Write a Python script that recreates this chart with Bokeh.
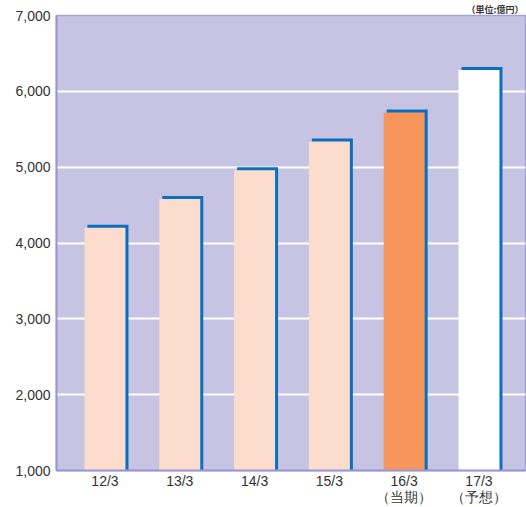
from bokeh.plotting import figure
from bokeh.models import FixedTicker, NumeralTickFormatter, Range1d
from bokeh.embed import file_html
from bokeh.resources import INLINE

# Fiscal periods and revenue (100 million yen)
periods = ["12/3", "13/3", "14/3", "15/3", "16/3", "17/3"]
notes = ["", "", "", "", "（当期）", "（予想）"]
values = [4200, 4580, 4960, 5340, 5720, 6280]
face_colors = ["#fcdccd", "#fcdccd", "#fcdccd", "#fcdccd", "#f7965a", "#ffffff"]
y_ticks = [1000, 2000, 3000, 4000, 5000, 6000, 7000]

W, H = 526, 507
ML, MR, MT, MB = 56, 1, 0, 20
frame_w = W - ML - MR
frame_h = 457

x0, x1 = -0.648, 5.622
y0, y1 = 1000, 7000
px_x = frame_w / (x1 - x0)
px_y = frame_h / (y1 - y0)

p = figure(width=W, height=H, output_backend="svg", toolbar_location=None,
           x_range=Range1d(x0, x1), y_range=Range1d(y0, y1),
           min_border_left=ML, min_border_right=MR, min_border_top=MT,
           min_border_bottom=MB, title="（単位:億円）")
p.title.align = "right"
p.title.text_font = "Noto Sans CJK JP"
p.title.text_font_size = "9px"
p.title.text_font_style = "bold"
p.title.text_color = "#333333"
p.title.standoff = 0
p.title.offset = 2

p.background_fill_color = "#c6c4e2"
p.border_fill_color = "#ffffff"
p.outline_line_color = "#a7a1d8"
p.outline_line_width = 1.5

xs = list(range(len(periods)))
bar_w = 41 / px_x
dx = 3 / px_x
dy = 3 / px_y

# blue drop shadow, offset up and to the right
p.vbar(x=[x + dx for x in xs], top=[v + dy for v in values], bottom=y0,
       width=bar_w, fill_color="#0b6fbd", line_color=None)
# bar faces
p.vbar(x=xs, top=values, bottom=y0, width=bar_w,
       fill_color=face_colors, line_color=None)

p.xgrid.grid_line_color = None
p.ygrid.ticker = FixedTicker(ticks=y_ticks)
p.ygrid.grid_line_color = "#ffffff"
p.ygrid.grid_line_width = 2
p.ygrid.level = "underlay"

p.yaxis.ticker = FixedTicker(ticks=y_ticks)
p.yaxis.formatter = NumeralTickFormatter(format="0,0")
p.yaxis.axis_line_color = "#9b95d3"
p.yaxis.axis_line_width = 2
p.yaxis.major_tick_line_color = None
p.yaxis.minor_tick_line_color = None
p.yaxis.major_tick_out = 0
p.yaxis.minor_tick_out = 0
p.yaxis.major_label_text_font = "Liberation Sans"
p.yaxis.major_label_text_font_size = "14px"
p.yaxis.major_label_text_color = "#333333"
p.yaxis.major_label_standoff = 6

p.xaxis.ticker = FixedTicker(ticks=xs)
p.xaxis.major_label_overrides = {
    i: (s + "\n" + n if n else s) for i, (s, n) in enumerate(zip(periods, notes))
}
p.xaxis.axis_line_color = "#9b95d3"
p.xaxis.axis_line_width = 2
p.xaxis.major_tick_line_color = None
p.xaxis.minor_tick_line_color = None
p.xaxis.major_tick_out = 0
p.xaxis.minor_tick_out = 0
p.xaxis.major_label_text_font = "Liberation Sans"
p.xaxis.major_label_text_font_size = "14px"
p.xaxis.major_label_text_color = "#333333"
p.xaxis.major_label_standoff = 2
p.xaxis.major_label_text_line_height = 1.0

open("out.html", "w").write(file_html(p, INLINE))
